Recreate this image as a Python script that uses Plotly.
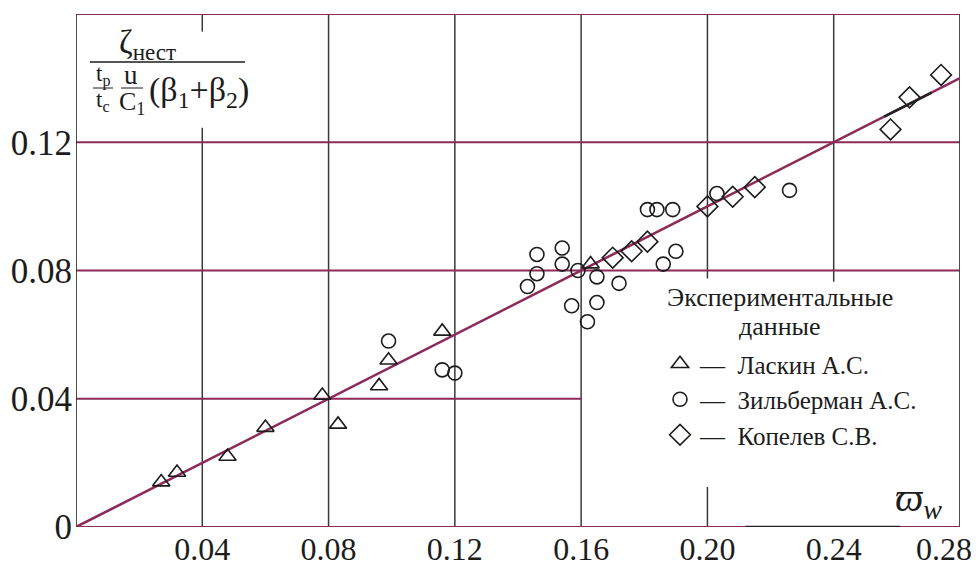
import plotly.graph_objects as go

# ---------------- data ----------------
laskin_x = [0.027, 0.032, 0.048, 0.060, 0.078, 0.083, 0.096, 0.099, 0.116, 0.163]
laskin_y = [0.014, 0.017, 0.022, 0.031, 0.041, 0.032, 0.044, 0.052, 0.061, 0.082]

zilberman_x = [0.099, 0.116, 0.120, 0.143, 0.146, 0.146, 0.154, 0.154, 0.159, 0.165,
               0.172, 0.157, 0.165, 0.162, 0.181, 0.184, 0.189, 0.186, 0.190, 0.203, 0.226]
zilberman_y = [0.058, 0.049, 0.048, 0.075, 0.079, 0.085, 0.087, 0.082, 0.080, 0.078,
               0.076, 0.069, 0.070, 0.064, 0.099, 0.099, 0.099, 0.082, 0.086, 0.104, 0.105]

kopelev_x = [0.170, 0.176, 0.181, 0.200, 0.208, 0.215, 0.258, 0.264, 0.274]
kopelev_y = [0.084, 0.086, 0.089, 0.100, 0.103, 0.106, 0.124, 0.134, 0.141]

fit_x = [0.0, 0.28]
fit_y = [0.0, 0.14]

x_tick_vals = [0.04, 0.08, 0.12, 0.16, 0.20, 0.24, 0.28]
x_tick_text = ["0.04", "0.08", "0.12", "0.16", "0.20", "0.24", "0.28"]
y_tick_vals = [0.0, 0.04, 0.08, 0.12, 0.16]
y_tick_text = ["0", "0.04", "0.08", "0.12", "0.16"]

series_names = ["—\u00a0\u00a0Ласкин А.С.", "—\u00a0\u00a0Зильберман А.С.", "—\u00a0\u00a0Копелев С.В."]

# ---------------- style ----------------
# the page body has an 8px margin, so the figure is drawn 8px right/down
OFF = 8
W, H = 979 - OFF, 564 - OFF
# target plot area on screen: x 76..960, y 14..527
L, R, T, B = 76 - OFF, W - (960 - OFF), 14 - OFF, H - (527 - OFF)
MAROON = "#8c2a58"
GRAY = "#3a3a3a"
INK = "#1c1c1c"
SERIF = "Liberation Serif"

# last x label sits flush with the right edge, as in the original print
x_tick_display = x_tick_text[:-1] + [x_tick_text[-1] + "\u00a0" * 4]

fig = go.Figure()

fig.add_trace(go.Scatter(x=fit_x, y=fit_y, mode="lines",
                         line=dict(color=MAROON, width=2.6), showlegend=False, hoverinfo="skip"))

mk = dict(color=INK, line=dict(width=1.6, color=INK))
fig.add_trace(go.Scatter(x=laskin_x, y=laskin_y, mode="markers", name=series_names[0],
                         legendgroup="a",
                         marker=dict(symbol="triangle-up-open", size=15, **mk)))
fig.add_trace(go.Scatter(x=zilberman_x, y=zilberman_y, mode="markers", name=series_names[1],
                         legendgroup="b",
                         marker=dict(symbol="circle-open", size=14, **mk)))
fig.add_trace(go.Scatter(x=kopelev_x, y=kopelev_y, mode="markers", name=series_names[2],
                         legendgroup="c",
                         marker=dict(symbol="diamond-open", size=16, **mk)))

# ---------------- grid / frame (drawn as segments) ----------------
shapes = []
def seg(x0, y0, x1, y1, color, width):
    shapes.append(dict(type="line", xref="x", yref="y", x0=x0, y0=y0, x1=x1, y1=y1,
                       line=dict(color=color, width=width), layer="below"))

# vertical grid lines
seg(0.04, 0.0, 0.04, 0.1245, GRAY, 1.5)
seg(0.04, 0.1545, 0.04, 0.16, GRAY, 1.5)
for xv in [0.08, 0.12, 0.16]:
    seg(xv, 0.0, xv, 0.16, GRAY, 1.5)
seg(0.20, 0.0775, 0.20, 0.16, GRAY, 1.5)
seg(0.20, 0.0, 0.20, 0.0125, GRAY, 1.5)
seg(0.24, 0.0765, 0.24, 0.16, GRAY, 1.5)
# horizontal grid lines
seg(0.0, 0.04, 0.16, 0.04, MAROON, 2)
seg(0.0, 0.08, 0.28, 0.08, MAROON, 2)
seg(0.0, 0.12, 0.28, 0.12, MAROON, 2)
# frame
seg(0.0, 0.16, 0.28, 0.16, MAROON, 2.2)
seg(0.0, 0.0, 0.28, 0.0, MAROON, 2.2)
seg(0.0, 0.0, 0.0, 0.16, GRAY, 1.8)
seg(0.28, 0.0, 0.28, 0.16, GRAY, 1.8)
# darker print over-run on parts of the bottom axis and of the fitted line
seg(0.212, 0.0, 0.261, 0.0, "#222222", 2.4)
slope = (fit_y[1] - fit_y[0]) / (fit_x[1] - fit_x[0])
shapes.append(dict(type="line", xref="x", yref="y", x0=0.256, y0=slope * 0.256,
                   x1=0.271, y1=slope * 0.271, line=dict(color="#222222", width=2.6)))

# ---------------- text helpers (screen pixel -> paper) ----------------
pw, ph = W - L - R, H - T - B
def px(x):
    return (x - OFF - L) / pw
def py(y):
    return (H - B - (y - OFF)) / ph

ann = []
def text(x, y, s, size, **kw):
    d = dict(xref="paper", yref="paper", x=px(x), y=py(y), text=s, showarrow=False,
             xanchor="center", yanchor="middle", font=dict(family=SERIF, size=size, color=INK))
    d.update(kw)
    ann.append(d)

def bar(x0, x1, y, w=1.4):
    shapes.append(dict(type="line", xref="paper", yref="paper", x0=px(x0), x1=px(x1),
                       y0=py(y), y1=py(y), line=dict(color=INK, width=w)))

# formula (y-axis quantity)
text(147, 44, "ζ<sub>нест</sub>", 33)
bar(90, 245, 62)
text(103, 75, "t<sub>p</sub>", 23)
bar(93, 113, 88, 1.0)
text(103, 101, "t<sub>c</sub>", 23)
text(131, 75, "u", 27)
bar(121, 143, 88, 1.0)
text(132, 103, "C<sub>1</sub>", 26)
text(199, 92, "(β<sub>1</sub>+β<sub>2</sub>)", 34)

# x-axis quantity
text(918, 500, "<i>ϖ</i><sub><i>w</i></sub>", 40)

# legend title
text(780, 297, "Экспериментальные", 26)
text(780, 326, "данные", 26)

fig.update_layout(
    width=W, height=H,
    margin=dict(l=L, r=R, t=T, b=B, pad=0, autoexpand=False),
    paper_bgcolor="white", plot_bgcolor="white",
    font=dict(family=SERIF, color=INK),
    shapes=shapes, annotations=ann,
    showlegend=True,
    legend=dict(x=px(660), y=py(341), xanchor="left", yanchor="top",
                bgcolor="rgba(0,0,0,0)", borderwidth=0,
                font=dict(family=SERIF, size=25, color=INK),
                tracegroupgap=5, traceorder="normal"),
    xaxis=dict(range=[0, 0.28], showgrid=False, zeroline=False, showline=False,
               automargin=False,
               tickmode="array", tickvals=x_tick_vals, ticktext=x_tick_display,
               ticks="", ticklabelstandoff=0, ticklabeloverflow="allow",
               tickfont=dict(family=SERIF, size=32, color=INK), fixedrange=True),
    yaxis=dict(range=[0, 0.16], showgrid=False, zeroline=False, showline=False,
               automargin=False,
               tickmode="array", tickvals=y_tick_vals, ticktext=y_tick_text,
               ticks="", ticklabelstandoff=3,
               tickfont=dict(family=SERIF, size=35, color=INK), fixedrange=True),
)

fig.write_html("out.html")
